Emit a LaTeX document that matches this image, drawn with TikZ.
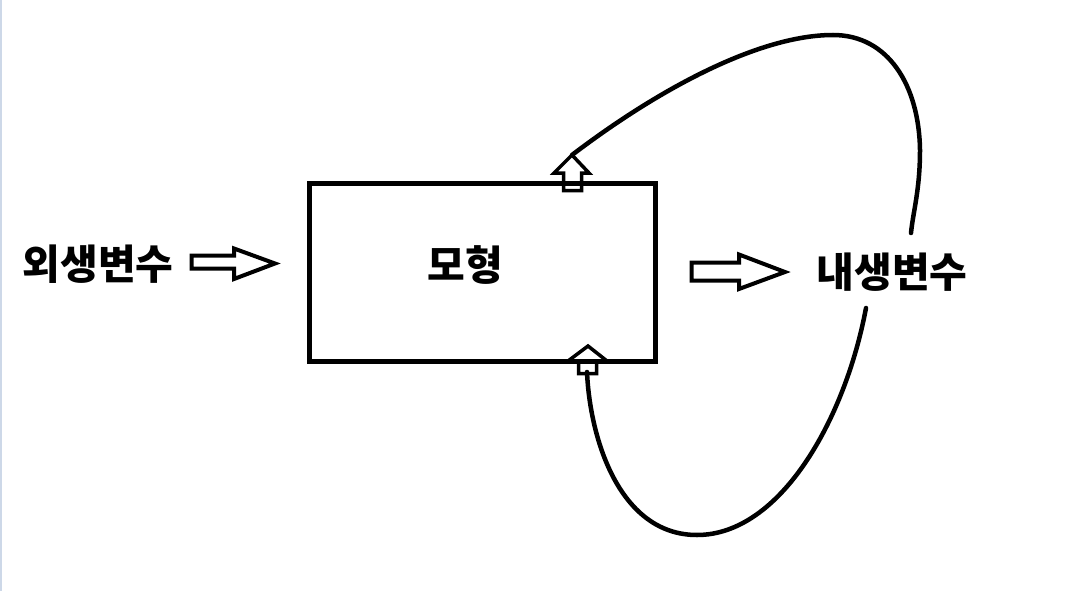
\documentclass[tikz,border=0pt]{standalone}
\usepackage{fontspec}
\newfontfamily\kr{Noto Sans CJK KR}
\begin{document}
\begin{tikzpicture}[x=1pt,y=-1pt,
  label/.style={font=\kr\bfseries\fontsize{41}{41}\selectfont, inner sep=0pt},
  box/.style={draw, line width=4.5pt, minimum width=346pt, minimum height=178pt, inner sep=0pt},
  hollow/.style={draw, line width=4pt, line join=miter},
  loop/.style={draw, line width=4.5pt, line cap=round}]
\useasboundingbox (0,0) rectangle (1076,591);
\fill[fill={rgb,255:red,205;green,216;blue,232}] (0,0) rectangle (2,591);
% nodes
\node[box] (model) at (482.5,272.5) {};
\node[label] (mtext) at (465,265) {모형};
\node[label] (ext) at (98,264) {외생변수};
\node[label] (endo) at (892,272) {내생변수};
% hollow arrows
\draw[hollow] (191.5,255.5) -- (234,255.5) -- (234,248.5) -- (275,263.5) -- (234,279) -- (234,268.5) -- (191.5,268.5) -- cycle;
\draw[hollow] (691.5,262.5) -- (739,262.5) -- (739,254.5) -- (785,272) -- (739,289) -- (739,280.5) -- (691.5,280.5) -- cycle;
% small arrows on the box
\draw[hollow,line width=3.5pt] (563.5,190.5) -- (563.5,173) -- (554,173) -- (572,155) -- (589,173) -- (581.5,173) -- (581.5,190.5) -- cycle;
\draw[hollow,line width=3.5pt] (578.5,373.5) -- (578.5,361) -- (568,361) -- (588,346) -- (607,361) -- (596.5,361) -- (596.5,373.5) -- cycle;
% feedback loop
\coordinate (topin) at (572,155);
\coordinate (topend) at (911,233);
\coordinate (botstart) at (866,308);
\coordinate (botin) at (587,372);
\draw[loop] (topin) .. controls (660,88) and (760,35) .. (833,35)
  .. controls (888,35) and (919,85) .. (920,150)
  .. controls (920,190) and (913,212) .. (topend);
\draw[loop] (botstart) .. controls (845,420) and (780,535) .. (697,535)
  .. controls (620,535) and (590,440) .. (botin);
\end{tikzpicture}
\end{document}
